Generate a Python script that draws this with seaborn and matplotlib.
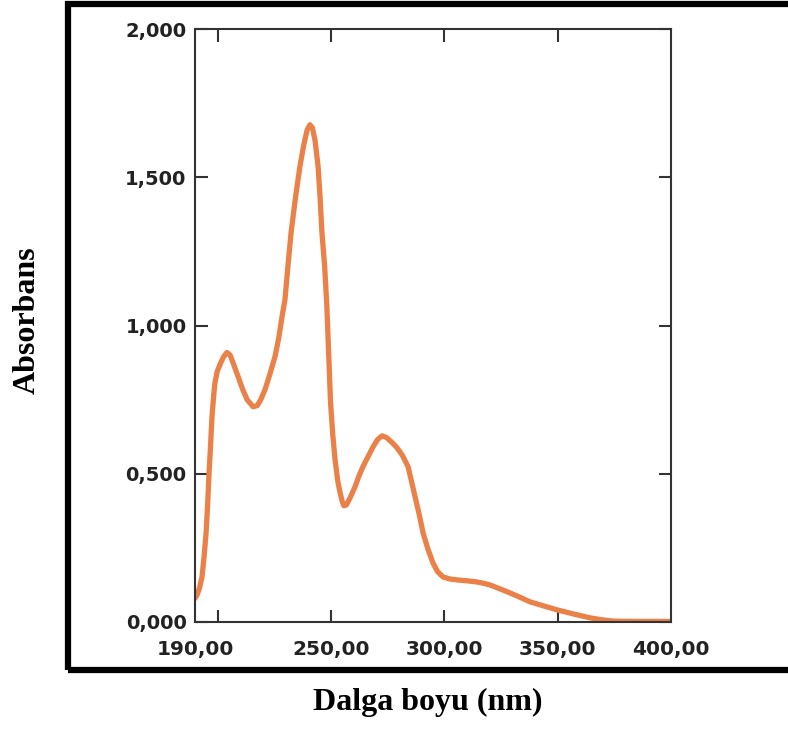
import matplotlib
matplotlib.use("Agg")
import matplotlib.pyplot as plt
import seaborn as sns
import pandas as pd
from matplotlib.patches import Rectangle

wavelength = [190.0, 190.9, 192.0, 193.1, 194.0, 194.9, 195.6, 196.2, 196.9, 197.5,
              198.2, 198.8, 199.8, 201.0, 202.5, 204.1, 205.5, 207.0, 209.0, 211.0,
              213.0, 215.6, 217.5, 219.0, 220.9, 223.0, 225.3, 227.0, 228.4, 229.7,
              231.0, 232.4, 234.3, 236.3, 238.0, 239.5, 240.7, 241.8, 243.0, 244.3,
              245.2, 246.0, 247.2, 248.2, 249.0, 249.8, 250.8, 251.8, 253.0, 254.0,
              255.0, 255.7, 256.8, 258.5, 260.6, 262.3, 264.1, 266.3, 268.5, 270.5,
              272.5, 274.5, 277.0, 279.1, 281.5, 284.0, 285.5, 287.1, 289.0, 290.6,
              292.8, 295.0, 297.0, 299.4, 302.5, 305.6, 310.0, 314.4, 317.0, 320.1,
              324.5, 329.0, 333.5, 337.8, 343.5, 349.7, 357.0, 364.3, 369.0, 374.4,
              385.0, 400.0]
absorbance = [0.080, 0.091, 0.115, 0.152, 0.220, 0.301, 0.400, 0.503, 0.600, 0.693,
              0.760, 0.807, 0.845, 0.868, 0.893, 0.909, 0.900, 0.870, 0.828, 0.785,
              0.750, 0.726, 0.730, 0.750, 0.784, 0.835, 0.895, 0.960, 1.030, 1.088,
              1.200, 1.314, 1.430, 1.537, 1.610, 1.660, 1.677, 1.667, 1.622, 1.537,
              1.430, 1.314, 1.200, 1.060, 0.900, 0.740, 0.630, 0.547, 0.475, 0.436,
              0.405, 0.392, 0.395, 0.420, 0.456, 0.492, 0.524, 0.557, 0.590, 0.615,
              0.628, 0.622, 0.605, 0.588, 0.562, 0.524, 0.475, 0.422, 0.360, 0.301,
              0.245, 0.199, 0.170, 0.152, 0.145, 0.142, 0.139, 0.135, 0.131, 0.125,
              0.112, 0.098, 0.083, 0.068, 0.055, 0.041, 0.027, 0.014, 0.008, 0.003,
              0.002, 0.002]

x_label_ticks = [190, 250, 300, 350, 400]
x_label_text = ["190,00", "250,00", "300,00", "350,00", "400,00"]
x_mark_ticks = [200, 250, 300, 350]
y_ticks = [0.0, 0.5, 1.0, 1.5, 2.0]
y_tick_text = ["0,000", "0,500", "1,000", "1,500", "2,000"]

df = pd.DataFrame({"wl": wavelength, "abs": absorbance})

sns.set_theme(style="white")
W, H = 788, 729
fig = plt.figure(figsize=(W / 100, H / 100), dpi=100)
ax = fig.add_axes([195 / W, 1 - 622 / H, (671 - 195) / W, (622 - 29) / H])

sns.lineplot(data=df, x="wl", y="abs", ax=ax, color="#EA8148", linewidth=3.8,
             solid_capstyle="round", solid_joinstyle="round")

ax.set_xlim(190, 400)
ax.set_ylim(0, 2.0)
ax.set_xlabel("")
ax.set_ylabel("")

for s in ax.spines.values():
    s.set_color("#333333")
    s.set_linewidth(1.5)
    s.set_visible(True)

ax.xaxis.remove_overlapping_locs = False
ax.set_xticks(x_mark_ticks)
ax.set_xticklabels([])
ax.set_xticks(x_label_ticks, minor=True)
ax.set_xticklabels(x_label_text, minor=True)
ax.tick_params(axis="x", which="major", direction="in", length=9, width=1.5,
               color="#333333", top=True, bottom=True)
ax.tick_params(axis="x", which="minor", length=0, pad=13, labelsize=14.5,
               labelcolor="#222222", top=False)
for lab in ax.get_xticklabels(minor=True):
    lab.set_fontweight("bold")
    lab.set_family("DejaVu Sans")

ax.set_yticks(y_ticks)
ax.set_yticklabels(y_tick_text)
ax.tick_params(axis="y", which="major", direction="in", length=9, width=1.5,
               color="#333333", left=True, right=True, pad=6, labelsize=14,
               labelcolor="#222222")
for lab in ax.get_yticklabels():
    lab.set_fontweight("bold")
    lab.set_family("DejaVu Sans")

ax.grid(False)

frame = Rectangle((68 / W, 1 - 670 / H), 1.2, (670 - 3.5) / H,
                  transform=fig.transFigure, fill=False, edgecolor="black",
                  linewidth=4.5, clip_on=False)
fig.patches.append(frame)

fig.text(428 / W, 1 - 702 / H, "Dalga boyu (nm)", ha="center", va="center",
         fontsize=23, fontweight="bold", family="Liberation Serif", color="black")
fig.text(27 / W, 1 - 320 / H, "Absorbans", ha="center", va="center",
         rotation=90, fontsize=23, fontweight="bold", family="Liberation Serif",
         color="black")

fig.savefig("out.png", dpi=100)
